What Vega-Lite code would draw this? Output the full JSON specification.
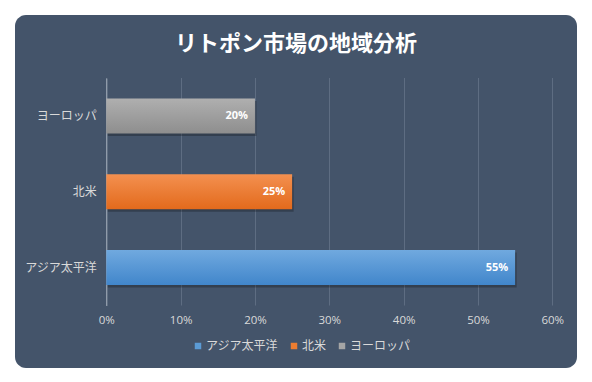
{
  "$schema": "https://vega.github.io/schema/vega-lite/v6.json",
  "width": 562,
  "height": 353,
  "autosize": "none",
  "padding": {"left": 15, "top": 15, "right": 15, "bottom": 14},
  "background": "#ffffff",
  "view": {"fill": "#44546A", "cornerRadius": 11, "stroke": null},
  "title": {
    "text": "リトポン市場の地域分析",
    "font": "Noto Sans CJK JP",
    "fontSize": 22,
    "fontWeight": "bold",
    "color": "#ffffff",
    "anchor": "middle",
    "frame": "group",
    "baseline": "middle",
    "offset": -51
  },
  "data": {
    "values": [
      {"region": "ヨーロッパ", "share": 0.20},
      {"region": "北米", "share": 0.25},
      {"region": "アジア太平洋", "share": 0.55}
    ]
  },
  "encoding": {
    "y": {
      "field": "region",
      "type": "nominal",
      "sort": ["ヨーロッパ", "北米", "アジア太平洋"],
      "scale": {"range": [63, 290.5], "paddingInner": 0.538, "paddingOuter": 0.27},
      "axis": {
        "title": null,
        "orient": "left",
        "offset": -91.3,
        "domainColor": "#A6AFBB",
        "domainWidth": 1,
        "ticks": false,
        "grid": false,
        "labelPadding": 10,
        "labelColor": "#D9D9D9",
        "labelFont": "Noto Sans CJK JP",
        "labelFontSize": 12
      }
    },
    "x": {
      "field": "share",
      "type": "quantitative",
      "scale": {"domain": [0, 0.6], "range": [91.3, 537.3], "nice": false},
      "axis": {
        "title": null,
        "values": [0, 0.1, 0.2, 0.3, 0.4, 0.5, 0.6],
        "format": ".0%",
        "offset": -62,
        "domain": false,
        "ticks": false,
        "grid": true,
        "gridColor": "#5E6D82",
        "gridWidth": 1,
        "labelFlush": false,
        "labelPadding": 8,
        "labelColor": "#D9D9D9",
        "labelFont": "Open Sans",
        "labelFontSize": 11.5
      }
    }
  },
  "layer": [
    {
      "mark": {"type": "bar", "opacity": 0},
      "encoding": {
        "color": {
          "field": "region",
          "type": "nominal",
          "scale": {
            "domain": ["アジア太平洋", "北米", "ヨーロッパ"],
            "range": ["#5B9BD5", "#ED7D31", "#A5A5A5"]
          },
          "legend": {
            "title": null,
            "orient": "none",
            "direction": "horizontal",
            "legendX": 177,
            "legendY": 325,
            "symbolType": "square",
            "symbolSize": 42,
            "symbolOpacity": 1,
            "symbolStrokeWidth": 0,
            "labelColor": "#D9D9D9",
            "labelFont": "Noto Sans CJK JP",
            "labelFontSize": 12,
            "labelOffset": 2,
            "columnPadding": 9
          }
        }
      }
    },
    {
      "mark": {"type": "bar", "fill": "#000000", "opacity": 0.25, "xOffset": 1.5, "yOffset": 2.5}
    },
    {
      "mark": {"type": "bar"},
      "encoding": {
        "fill": {
          "condition": [
            {"test": "datum.region === 'アジア太平洋'", "value": {"gradient": "linear", "x1": 0, "y1": 0, "x2": 0, "y2": 1, "stops": [{"offset": 0, "color": "#70A9DF"}, {"offset": 1, "color": "#4186CB"}]}},
            {"test": "datum.region === '北米'", "value": {"gradient": "linear", "x1": 0, "y1": 0, "x2": 0, "y2": 1, "stops": [{"offset": 0, "color": "#F39050"}, {"offset": 1, "color": "#E36A1C"}]}}
          ],
          "value": {"gradient": "linear", "x1": 0, "y1": 0, "x2": 0, "y2": 1, "stops": [{"offset": 0, "color": "#AFAFAF"}, {"offset": 1, "color": "#8E8E8E"}]}
        }
      }
    },
    {
      "mark": {"type": "text", "align": "right", "baseline": "middle", "dx": -7, "color": "#ffffff", "font": "Open Sans", "fontWeight": "bold", "fontSize": 11},
      "encoding": {
        "text": {"field": "share", "type": "quantitative", "format": ".0%"}
      }
    }
  ]
}
